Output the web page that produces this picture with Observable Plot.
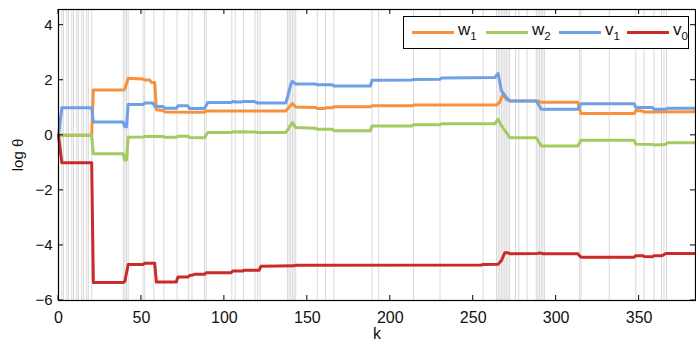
<!DOCTYPE html>
<html><head><meta charset="utf-8">
<script src="https://cdn.jsdelivr.net/npm/d3@7"></script>
<script src="https://cdn.jsdelivr.net/npm/@observablehq/plot@0.6"></script>
<style>
body{margin:0;background:#fff;font-family:"Liberation Sans",Arial,sans-serif;}
#wrap{position:relative;width:696px;height:340px;}
#legend{position:absolute;left:403px;top:16px;width:286px;height:33px;border:1.3px solid #000;background:#fff;box-sizing:border-box;}
.item{position:absolute;top:0;height:31px;}
.sw{position:absolute;top:14px;width:42px;height:3px;}
.lab{position:absolute;top:3px;font-size:17px;color:#111;white-space:nowrap;}
.lab sub{font-size:11.5px;vertical-align:-5px;}
</style></head>
<body><div id="wrap"><div id="legend"></div></div>
<script>
const seriesNames = ["w1", "w2", "v1", "v0"];
const seriesLabels = [["w","1"],["w","2"],["v","1"],["v","0"]];
const seriesColors = ["#f5913f", "#a4ca62", "#6f9fe6", "#c92a2a"];

const w1K = [0,20,21,39,40,42,51,52,55,56,58,59,63,64,88,89,137,139,141,143,155,156,160,161,165,166,188,189,213,214,264,266,268,270,272,289,291,313,315,347,348,352,353,384];
const w1V = [0,0,1.65,1.65,1.68,2.07,2.05,2.01,2.01,1.92,1.92,0.93,0.9,0.85,0.84,0.88,0.88,1.03,1.15,1.03,1.01,0.97,0.97,1.0,1.0,1.04,1.04,1.07,1.07,1.1,1.1,1.2,1.5,1.3,1.25,1.25,1.2,1.2,0.79,0.79,0.9,0.88,0.85,0.86];

const w2K = [0,20,21,39,40,41,42,51,52,63,64,71,72,78,79,88,90,104,105,118,120,137,139,141,143,155,156,165,166,188,189,213,214,230,231,263,265,267,270,272,288,291,313,315,347,348,358,359,366,367,384];
const w2V = [0,0,-0.67,-0.67,-0.9,-0.9,-0.07,-0.06,-0.04,-0.04,-0.07,-0.07,-0.03,-0.03,-0.08,-0.09,0.1,0.1,0.13,0.12,0.1,0.1,0.28,0.46,0.28,0.26,0.22,0.22,0.17,0.17,0.34,0.34,0.38,0.38,0.42,0.42,0.58,0.35,0.1,-0.09,-0.09,-0.39,-0.39,-0.18,-0.18,-0.32,-0.33,-0.35,-0.33,-0.27,-0.27];

const v1K = [0,2,20,21,39,40,41,42,51,52,57,58,63,64,71,72,78,79,88,90,104,105,107,110,111,118,120,137,139,140,141,143,155,156,165,166,188,189,213,214,230,231,263,265,267,270,272,288,291,313,315,347,348,358,359,366,367,384];
const v1V = [0,1.0,1.0,0.48,0.48,0.31,0.31,1.12,1.12,1.17,1.17,1.05,1.05,0.98,0.98,1.07,1.07,0.97,0.97,1.19,1.19,1.23,1.21,1.21,1.23,1.23,1.17,1.17,1.6,1.85,1.96,1.86,1.86,1.84,1.84,1.79,1.79,2.0,2.01,2.03,2.04,2.08,2.1,2.25,1.62,1.37,1.25,1.25,0.95,0.95,1.15,1.15,1.01,1.01,0.95,0.95,0.98,0.98];

const v0K = [0,2,20,21,39,40,42,51,52,58,59,71,72,78,79,81,82,88,89,104,105,111,112,121,122,142,143,255,256,265,267,269,271,272,289,290,292,313,315,347,348,352,353,358,359,364,366,384];
const v0V = [0,-1.0,-1.0,-5.35,-5.35,-5.3,-4.69,-4.69,-4.65,-4.65,-5.33,-5.33,-5.15,-5.15,-5.09,-5.07,-5.05,-5.05,-4.99,-4.99,-4.93,-4.93,-4.9,-4.9,-4.76,-4.74,-4.72,-4.71,-4.69,-4.68,-4.55,-4.27,-4.27,-4.3,-4.29,-4.27,-4.3,-4.3,-4.43,-4.43,-4.37,-4.37,-4.4,-4.41,-4.37,-4.37,-4.29,-4.29];

const eventK = [2,3,5,6,8,9,11,12,14,15,17,18,20,39,40,41,42,51,52,57.5,63.5,71.5,78.5,80.5,88,89,104.5,106.5,111.5,118.5,120,121.5,138,139,140,141,142,143,156,161,166,189,193,214,230,256,264,265,266,267,268,269,270,271,272,275.5,277.5,282.5,288,289,290,291,292,293,314,315,332,348,353,359,363.5,365,366.5];

const xTicks = [0,50,100,150,200,250,300,350];
const yTicks = [-6,-4,-2,0,2,4];

const seriesK = [w1K, w2K, v1K, v0K];
const seriesV = [w1V, w2V, v1V, v0V];
const rows = [];
seriesNames.forEach((s, i) => seriesK[i].forEach((k, j) => rows.push({s, k, v: seriesV[i][j]})));

const chart = Plot.plot({
  width: 696, height: 340,
  marginLeft: 58, marginRight: 1, marginTop: 9, marginBottom: 40,
  style: {fontFamily: "'Liberation Sans', Arial, sans-serif", fontSize: "16px", color: "#111", background: "#fff"},
  x: {domain: [0, 384]},
  y: {domain: [-6, 4.57]},
  color: {domain: seriesNames, range: seriesColors},
  marks: [
    Plot.ruleX(eventK, {stroke: "#d9d9d9", strokeWidth: 1}),
    Plot.line(rows, {x: "k", y: "v", z: "s", stroke: "s", strokeWidth: 3, strokeLinejoin: "round"}),
    Plot.frame({stroke: "#000", strokeWidth: 1.2}),
    Plot.axisX({ticks: xTicks, tickSize: 0, tickPadding: 11, label: null}),
    Plot.axisX({ticks: [], tickSize: 0, label: "k", labelArrow: "none", labelAnchor: "center", labelOffset: 38}),
    Plot.axisY({ticks: yTicks, tickSize: 0, tickPadding: 6, label: "log θ", labelArrow: "none", labelAnchor: "center", labelOffset: 46, fontSize: 15})
  ]
});
document.getElementById("wrap").insertBefore(chart, document.getElementById("legend"));

// inward ticks on all four sides, placed with the chart's own scales
const sx = chart.scale("x"), sy = chart.scale("y");
const [y0, y1] = sy.range;
const [x0, x1] = sx.range;
const svg = d3.select(chart.tagName.toLowerCase() === "svg" ? chart : chart.querySelector("svg"));
const tg = svg.append("g").attr("stroke", "#000").attr("stroke-width", 1);
const T = 5;
xTicks.forEach(t => {
  const px = sx.apply(t);
  tg.append("line").attr("x1", px).attr("x2", px).attr("y1", y0).attr("y2", y0 - T);
  tg.append("line").attr("x1", px).attr("x2", px).attr("y1", y1).attr("y2", y1 + T);
});
yTicks.forEach(t => {
  const py = sy.apply(t);
  tg.append("line").attr("x1", x0).attr("x2", x0 + T).attr("y1", py).attr("y2", py);
  tg.append("line").attr("x1", x1).attr("x2", x1 - T).attr("y1", py).attr("y2", py);
});

const legend = document.getElementById("legend");
const offsets = [8, 82, 155, 223];
seriesNames.forEach((s, i) => {
  const it = document.createElement("div");
  it.className = "item";
  it.style.left = offsets[i] + "px";
  it.innerHTML = `<div class="sw" style="background:${seriesColors[i]}"></div><div class="lab" style="left:46px">${seriesLabels[i][0]}<sub>${seriesLabels[i][1]}</sub></div>`;
  legend.appendChild(it);
});
</script></body></html>
